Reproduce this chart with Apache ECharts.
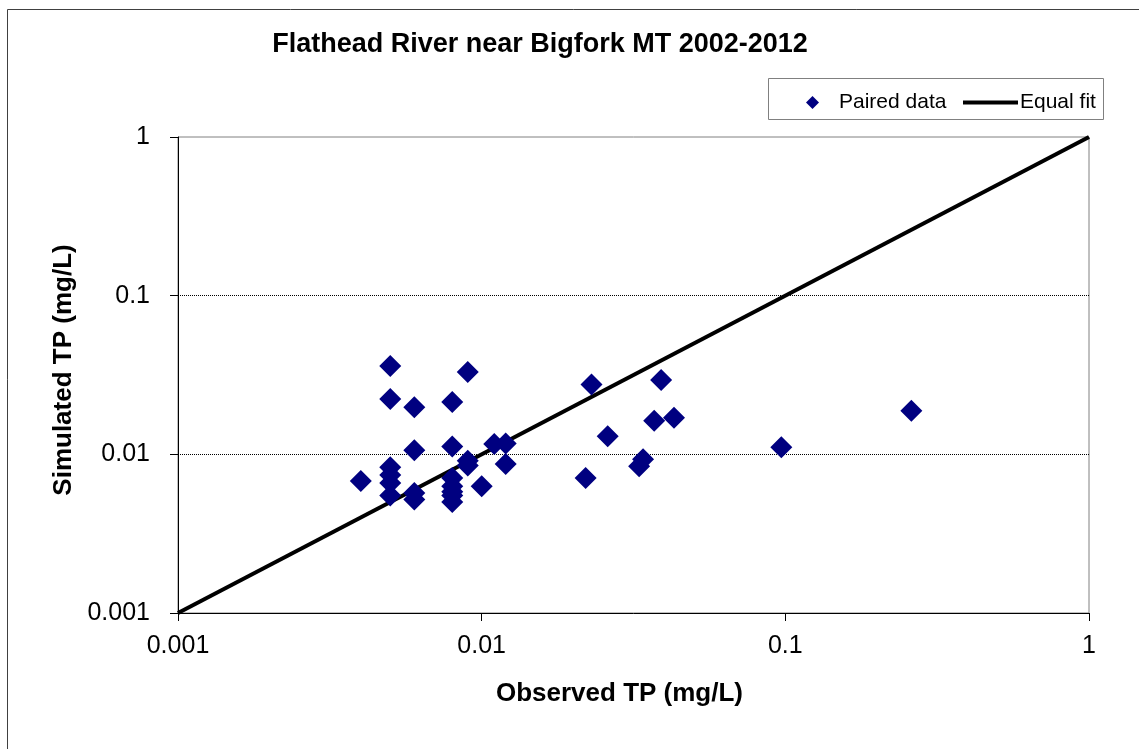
<!DOCTYPE html>
<html>
<head>
<meta charset="utf-8">
<script src="https://cdn.jsdelivr.net/npm/echarts@6/dist/echarts.min.js"></script>
<style>
  html, body { margin: 0; padding: 0; background: #fff; }
  #chart { width: 1139px; height: 749px; }
</style>
</head>
<body>
<div id="chart"></div>
<script>
// Observed vs simulated total phosphorus, Flathead River near Bigfork MT
const observedTP = [
  0.004,
  0.005, 0.005, 0.005, 0.005, 0.005, 0.005,
  0.006, 0.006, 0.006, 0.006,
  0.008, 0.008, 0.008, 0.008, 0.008, 0.008, 0.008,
  0.009, 0.009, 0.009,
  0.010, 0.011, 0.012, 0.012,
  0.022, 0.023, 0.026, 0.033, 0.034, 0.037, 0.039, 0.043,
  0.097, 0.26
];
const simulatedTP = [
  0.0068,
  0.036, 0.0223, 0.0083, 0.0074, 0.0066, 0.0055,
  0.0198, 0.0106, 0.0057, 0.0052,
  0.0214, 0.0112, 0.0071, 0.0063, 0.0058, 0.0055, 0.0050,
  0.033, 0.0091, 0.0085,
  0.0063, 0.0116, 0.0117, 0.0087,
  0.0071, 0.0276, 0.0130, 0.0084, 0.0093, 0.0163, 0.0294, 0.0170,
  0.0111, 0.0188
];
// 1:1 reference line end points
const equalFitX = [0.001, 1];
const equalFitY = [0.001, 1];
const axisTicks = ['0.001', '0.01', '0.1', '1'];

const pairedData = observedTP.map((x, i) => [x, simulatedTP[i]]);
const equalFit = equalFitX.map((x, i) => [x, equalFitY[i]]);

const FONT = '"Liberation Sans", Arial, sans-serif';
const fmt = v => {
  const s = String(+Number(v).toPrecision(1));
  return axisTicks.includes(s) ? s : '';
};

const chart = echarts.init(document.getElementById('chart'), null, { renderer: 'canvas' });
chart.setOption({
  animation: false,
  backgroundColor: '#fff',
  textStyle: { fontFamily: FONT },
  title: {
    text: 'Flathead River near Bigfork MT 2002-2012',
    left: 535, top: 26, textAlign: 'center',
    textStyle: { fontFamily: FONT, fontSize: 27, fontWeight: 'bold', color: '#000' }
  },
  graphic: [
    { type: 'rect', shape: { x: 7.5, y: 9.5, width: 1150, height: 760 },
      style: { fill: 'none', stroke: '#404040', lineWidth: 1 }, z: -1 },
    { type: 'rect', shape: { x: 768.5, y: 78.5, width: 335, height: 41 },
      style: { fill: '#fff', stroke: '#808080', lineWidth: 1 }, z: 0 }
  ],
  legend: [
    {
      data: [{ name: 'Paired data', icon: 'diamond' }],
      left: 801, top: 87, itemWidth: 13, itemHeight: 13,
      textStyle: { fontFamily: FONT, fontSize: 21, color: '#000', padding: [0, 0, 0, 15] },
      z: 5
    },
    {
      data: [{ name: 'Equal fit', icon: 'rect' }],
      left: 958, top: 87, itemWidth: 55, itemHeight: 4,
      textStyle: { fontFamily: FONT, fontSize: 21, color: '#000', padding: [0, 0, 0, -3] },
      z: 5
    }
  ],
  grid: {
    left: 178, right: 50, top: 137, bottom: 136,
    show: true, borderColor: '#808080', borderWidth: 1, backgroundColor: '#fff'
  },
  xAxis: {
    type: 'log', logBase: 10, min: 0.001, max: 1,
    name: 'Observed TP (mg/L)', nameLocation: 'middle', nameGap: 68,
    nameTextStyle: { fontFamily: FONT, fontSize: 26, fontWeight: 'bold', color: '#000', padding: [0, 28, 0, 0] },
    axisLine: { show: true, lineStyle: { color: '#000', width: 1 } },
    axisTick: { show: true, inside: false, length: 8, lineStyle: { color: '#000' } },
    minorTick: { show: false },
    axisLabel: { margin: 21, fontFamily: FONT, fontSize: 25, color: '#000', formatter: fmt },
    splitLine: { show: false }
  },
  yAxis: {
    type: 'log', logBase: 10, min: 0.001, max: 1,
    name: 'Simulated TP (mg/L)', nameLocation: 'middle', nameGap: 98,
    nameTextStyle: { fontFamily: FONT, fontSize: 26, fontWeight: 'bold', color: '#000', padding: [0, 0, 0, 10] },
    axisLine: { show: true, lineStyle: { color: '#000', width: 1 } },
    axisTick: { show: true, inside: false, length: 8, lineStyle: { color: '#000' } },
    minorTick: { show: false },
    axisLabel: { margin: 28, fontFamily: FONT, fontSize: 25, color: '#000', formatter: fmt },
    splitLine: {
      show: true, showMinLine: false, showMaxLine: false,
      lineStyle: { color: '#000', width: 1, type: [1, 1] }
    }
  },
  series: [
    {
      name: 'Equal fit', type: 'line', data: equalFit,
      symbol: 'none', lineStyle: { color: '#000', width: 4 }, itemStyle: { color: '#000' },
      z: 2, silent: true
    },
    {
      name: 'Paired data', type: 'scatter', data: pairedData,
      symbol: 'diamond', symbolSize: 22,
      itemStyle: { color: '#000080', opacity: 1 }, z: 3
    }
  ]
});
</script>
</body>
</html>
